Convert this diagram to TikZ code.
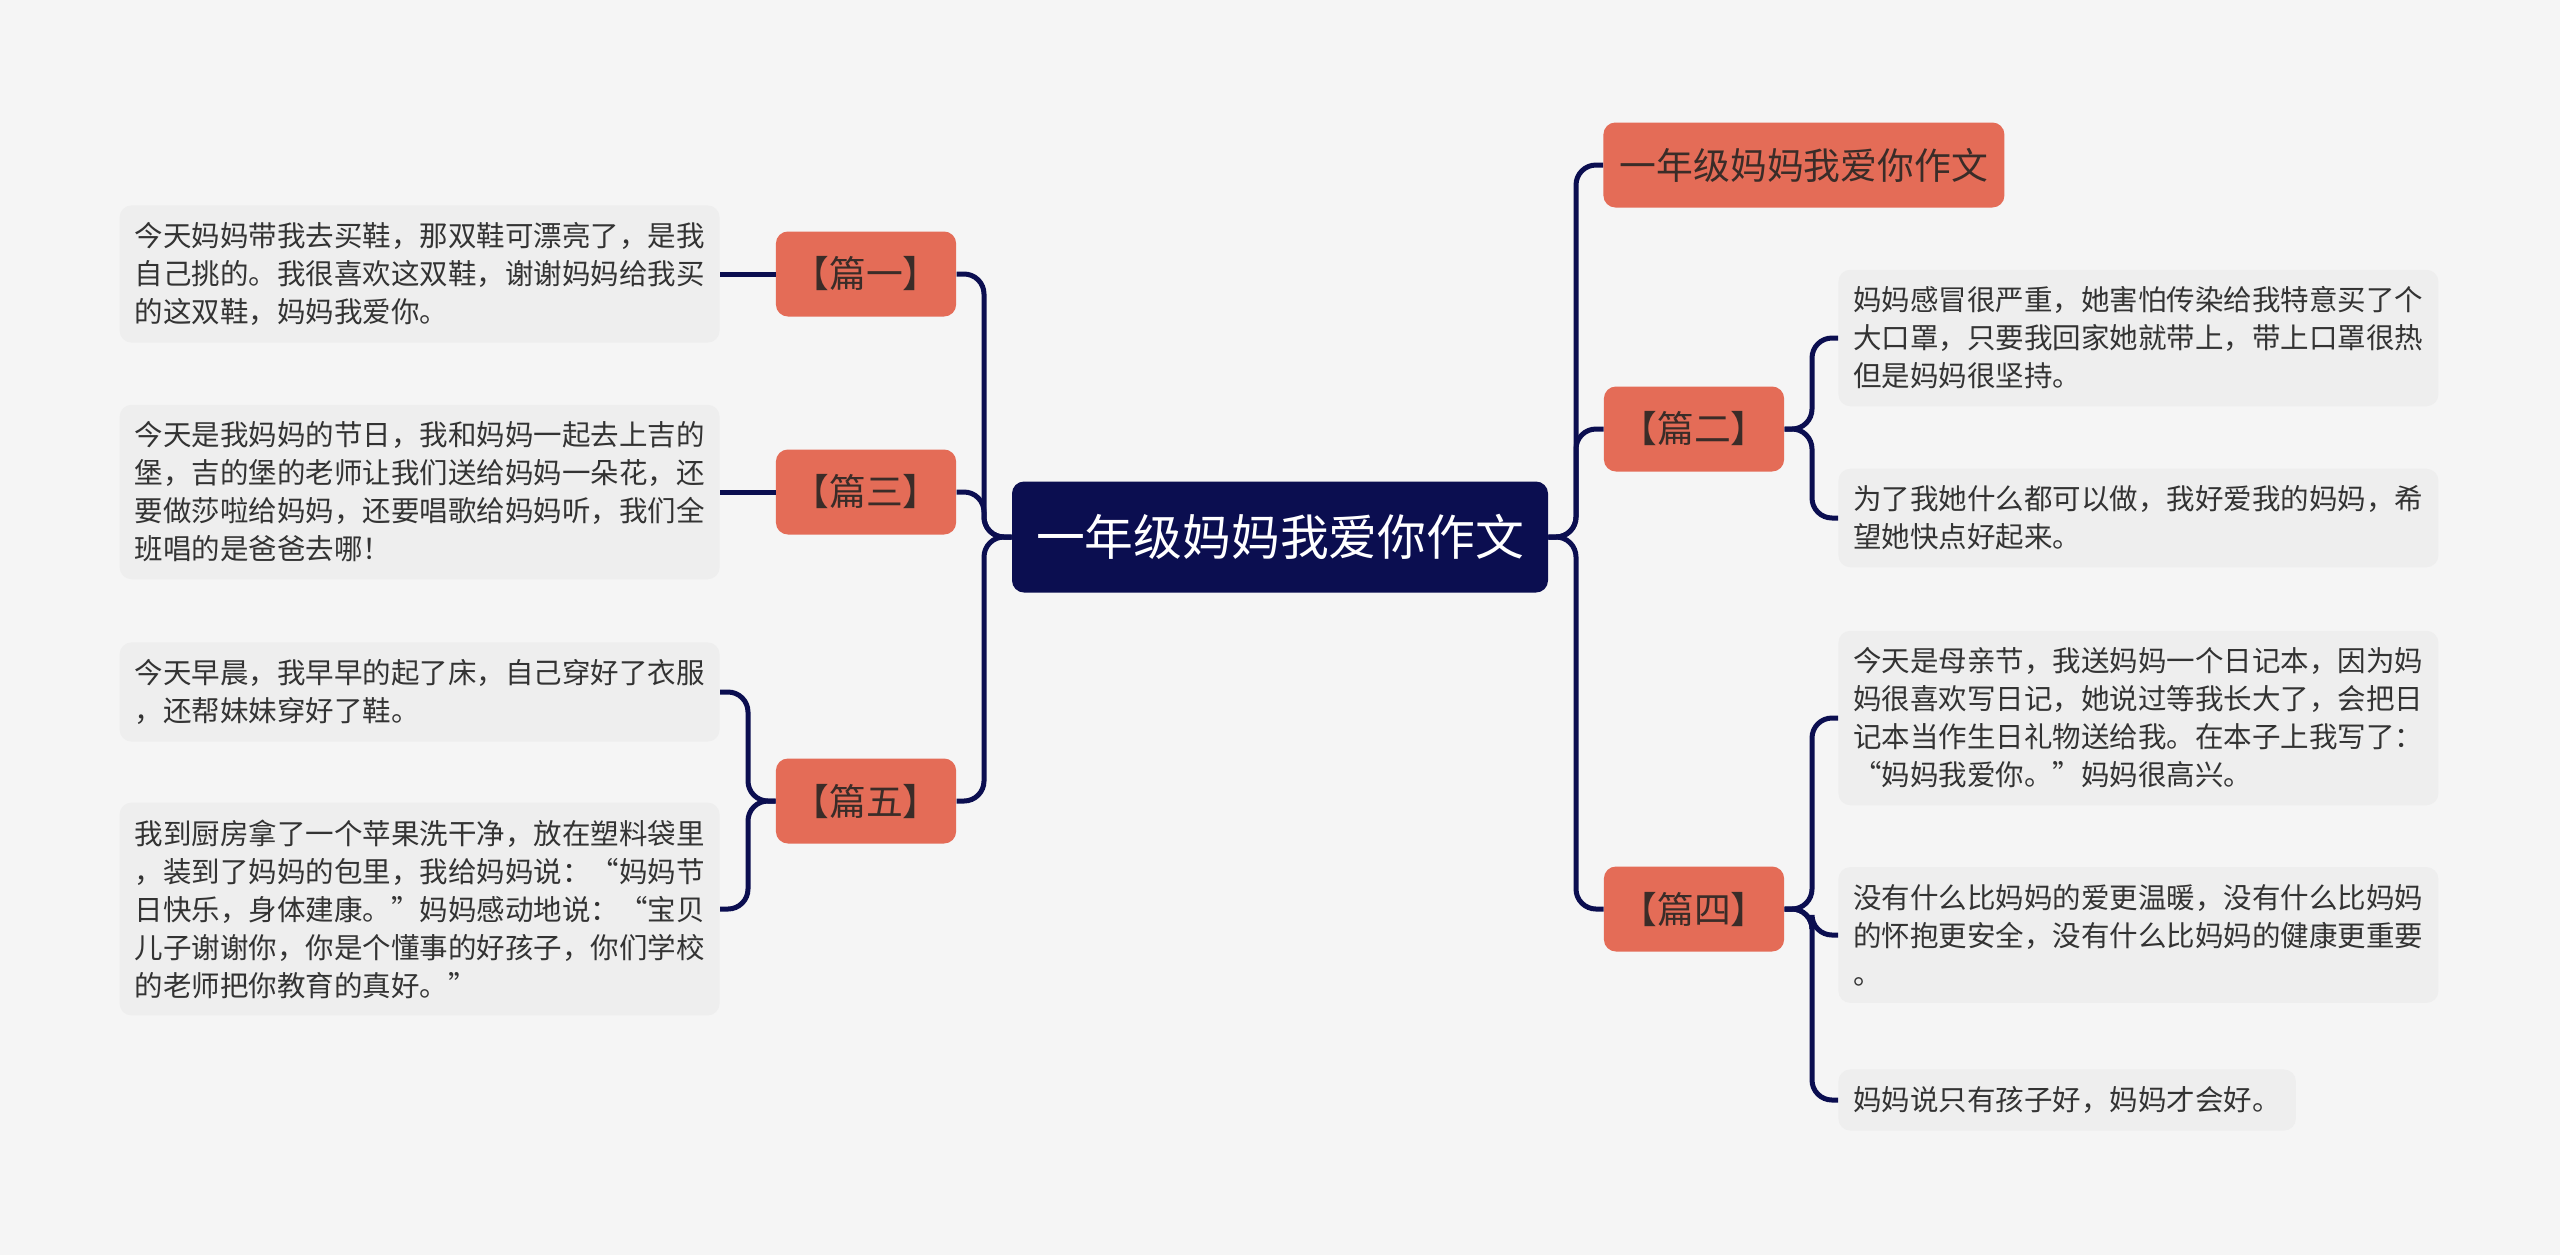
\documentclass[tikz,border=0pt]{standalone}
\usepackage{fontspec}
\setmainfont{Noto Sans CJK SC}
\usepackage{tikz}
\usetikzlibrary{positioning}
\definecolor{mmnavy}{HTML}{0B0E50}
\definecolor{mmorange}{HTML}{E46C57}
\definecolor{mmleaf}{HTML}{EEEEEE}
\definecolor{mmback}{HTML}{F5F5F5}
\definecolor{mmtext}{HTML}{3A2C28}

\begin{document}
\begin{tikzpicture}[x=0.5pt, y=-0.5pt,
  root/.style={fill=mmnavy, text=white, rounded corners=6pt, minimum height=55.5pt,
    inner xsep=12pt, font=\fontsize{24.4pt}{28pt}\selectfont},
  topic/.style={fill=mmorange, text=mmtext, rounded corners=6pt, minimum height=42.5pt,
    inner xsep=8.25pt, font=\fontsize{18.4pt}{22pt}\selectfont},
  leaf/.style={fill=mmleaf, text=black!80, rounded corners=6pt, inner xsep=7.5pt,
    inner ysep=8.5pt, align=left, font=\fontsize{14.25pt}{19pt}\selectfont},
  wide/.style={leaf, text width=285pt},
  link/.style={draw=mmnavy, line width=2.5pt, rounded corners=10pt}]

% Background
\fill[mmback] (0,0) rectangle (2560,1255);
\useasboundingbox (0,0) rectangle (2560,1255);

% Central topic
\node[root] (root) at (1280,537) {一年级妈妈我爱你作文};

% Left branches
\node[topic] (p1) at (866,274) {【篇一】};
\node[topic] (p3) at (866,492) {【篇三】};
\node[topic] (p5) at (866,801) {【篇五】};

% Right branches
\node[topic, anchor=west] (title) at (1603,165) {一年级妈妈我爱你作文};
\node[topic] (p2) at (1694,429) {【篇二】};
\node[topic] (p4) at (1694,909) {【篇四】};

% Left leaves
\node[wide, anchor=east] (l1) at (720,274)
  {今天妈妈带我去买鞋，那双鞋可漂亮了，是我\\自己挑的。我很喜欢这双鞋，谢谢妈妈给我买\\的这双鞋，妈妈我爱你。};
\node[wide, anchor=east] (l3) at (720,492)
  {今天是我妈妈的节日，我和妈妈一起去上吉的\\堡，吉的堡的老师让我们送给妈妈一朵花，还\\要做莎啦给妈妈，还要唱歌给妈妈听，我们全\\班唱的是爸爸去哪！};
\node[wide, anchor=east] (l5a) at (720,692)
  {今天早晨，我早早的起了床，自己穿好了衣服\\，还帮妹妹穿好了鞋。};
\node[wide, anchor=east] (l5b) at (720,909)
  {我到厨房拿了一个苹果洗干净，放在塑料袋里\\，装到了妈妈的包里，我给妈妈说：“妈妈节\\日快乐，身体建康。”妈妈感动地说：“宝贝\\儿子谢谢你，你是个懂事的好孩子，你们学校\\的老师把你教育的真好。”};

% Right leaves
\node[wide, anchor=west] (r2a) at (1838,338)
  {妈妈感冒很严重，她害怕传染给我特意买了个\\大口罩，只要我回家她就带上，带上口罩很热\\但是妈妈很坚持。};
\node[wide, anchor=west] (r2b) at (1838,518)
  {为了我她什么都可以做，我好爱我的妈妈，希\\望她快点好起来。};
\node[wide, anchor=west] (r4a) at (1838,718)
  {今天是母亲节，我送妈妈一个日记本，因为妈\\妈很喜欢写日记，她说过等我长大了，会把日\\记本当作生日礼物送给我。在本子上我写了：\\“妈妈我爱你。”妈妈很高兴。};
\node[wide, anchor=west] (r4b) at (1838,935)
  {没有什么比妈妈的爱更温暖，没有什么比妈妈\\的怀抱更安全，没有什么比妈妈的健康更重要\\。};
\node[leaf, anchor=west] (r4c) at (1838,1100) {妈妈说只有孩子好，妈妈才会好。};

% Trunks
\coordinate (ltrunk) at (984,537);
\coordinate (rtrunk) at (1576,537);
\coordinate (p5trunk) at (748,801);
\coordinate (p2trunk) at (1812,429);
\coordinate (p4trunk) at (1812,909);

% Connectors
\foreach \n in {p1,p3,p5}
  \draw[link] (root.west) -- (ltrunk) |- (\n.east);
\foreach \n in {title,p2,p4}
  \draw[link] (root.east) -- (rtrunk) |- (\n.west);
\draw[link] (p1.west) -- (l1.east);
\draw[link] (p3.west) -- (l3.east);
\foreach \n in {l5a,l5b}
  \draw[link] (p5.west) -- (p5trunk) |- (\n.east);
\foreach \n in {r2a,r2b}
  \draw[link] (p2.east) -- (p2trunk) |- (\n.west);
\foreach \n in {r4a,r4b,r4c}
  \draw[link] (p4.east) -- (p4trunk) |- (\n.west);

\end{tikzpicture}
\end{document}
